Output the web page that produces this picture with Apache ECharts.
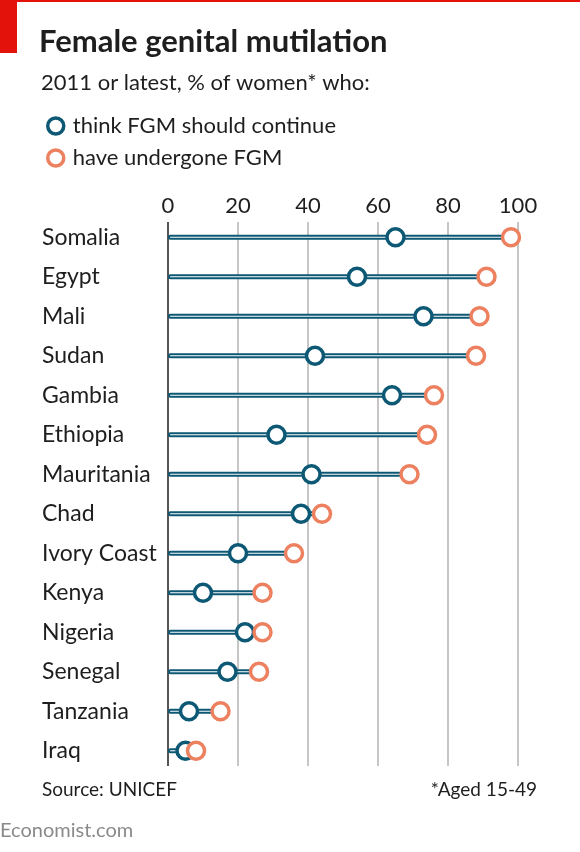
<!DOCTYPE html>
<html>
<head>
<meta charset="utf-8">
<script src="https://cdn.jsdelivr.net/npm/echarts@6/dist/echarts.min.js"></script>
<style>
html,body{margin:0;padding:0;background:#fff;}
#chart{width:580px;height:852px;}
</style>
</head>
<body>
<div id="chart"></div>
<script>
// ---- data ----
var countries = ['Somalia','Egypt','Mali','Sudan','Gambia','Ethiopia','Mauritania','Chad','Ivory Coast','Kenya','Nigeria','Senegal','Tanzania','Iraq'];
var thinkContinue = [65, 54, 73, 42, 64, 31, 41, 38, 20, 10, 22, 17, 6, 5];
var undergone     = [98, 91, 89, 88, 76, 74, 69, 44, 36, 27, 27, 26, 15, 8];
var xTicks = [0, 20, 40, 60, 80, 100];
var seriesNames = ['think FGM should continue', 'have undergone FGM'];

var TEAL = '#0d5874', ORANGE = '#ec805f', TXT = '#1e1e1e';
var FONT = 'Lato';

var chart = echarts.init(document.getElementById('chart'), null, {renderer: 'canvas'});
var option = {
  animation: false,
  backgroundColor: '#fff',
  textStyle: {fontFamily: FONT},
  graphic: [
    {type: 'rect', shape: {x: 0, y: 0, width: 580, height: 2}, style: {fill: '#e3120b'}, silent: true},
    {type: 'rect', shape: {x: 0, y: 0, width: 17, height: 53}, style: {fill: '#e3120b'}, silent: true}
  ],
  title: [
    {text: 'Female genital mutilation', left: 39, top: 25, padding: 0,
     textStyle: {fontFamily: FONT, fontWeight: 'bold', fontSize: 31, color: TXT, lineHeight: 34}},
    {text: '2011 or latest, % of women* who:', left: 41, top: 71, padding: 0,
     textStyle: {fontFamily: FONT, fontWeight: 'normal', fontSize: 22, color: TXT, lineHeight: 24}},
    {text: 'Source: UNICEF', left: 42, top: 779, padding: 0,
     textStyle: {fontFamily: FONT, fontWeight: 'normal', fontSize: 19, color: TXT, lineHeight: 22}},
    {text: '*Aged 15-49', right: 43, top: 779, padding: 0,
     textStyle: {fontFamily: FONT, fontWeight: 'normal', fontSize: 19, color: TXT, lineHeight: 22}},
    {text: 'Economist.com', left: 0, top: 820, padding: 0,
     textStyle: {fontFamily: FONT, fontWeight: 'normal', fontSize: 20, color: '#8a8a8a', lineHeight: 22}}
  ],
  legend: {
    orient: 'vertical', left: 46, top: 115, padding: 0,
    itemWidth: 16, itemHeight: 16, itemGap: 10,
    selectedMode: false,
    data: [
      {name: seriesNames[0], icon: 'circle', itemStyle: {color: '#fff', borderColor: TEAL, borderWidth: 3.5}},
      {name: seriesNames[1], icon: 'circle', itemStyle: {color: '#fff', borderColor: ORANGE, borderWidth: 3.5}}
    ],
    textStyle: {fontFamily: FONT, fontSize: 22, color: TXT, lineHeight: 22, padding: [0, 0, 0, 4]}
  },
  grid: [
    {left: 168, right: 62, top: 222, bottom: 86, containLabel: false},
    {left: 168, right: 62, top: 217.5, bottom: 81.5, containLabel: false}
  ],
  xAxis: [
    {type: 'value', gridIndex: 0, position: 'top', min: 0, max: 100, interval: 20,
     axisLine: {show: false}, axisTick: {show: false},
     axisLabel: {fontFamily: FONT, fontSize: 22, color: TXT, margin: 5,
       formatter: function (v) { return xTicks.indexOf(v) >= 0 ? String(v) : ''; }},
     splitLine: {show: true, lineStyle: {width: 2, color: ['#555555', '#c6c6c6', '#c6c6c6', '#c6c6c6', '#c6c6c6', '#c6c6c6']}}},
    {type: 'value', gridIndex: 1, min: 0, max: 100, show: false}
  ],
  yAxis: [
    {type: 'value', gridIndex: 0, min: 0, max: 1, show: false},
    {type: 'category', gridIndex: 1, data: countries, inverse: true,
     axisLine: {show: false}, axisTick: {show: false}, splitLine: {show: false},
     axisLabel: {align: 'left', margin: 126, fontFamily: FONT, fontSize: 23, color: TXT}}
  ],
  series: [
    {type: 'bar', name: 'bar', xAxisIndex: 1, yAxisIndex: 1, data: undergone,
     barWidth: 5, silent: true,
     itemStyle: {color: '#fff', borderColor: TEAL, borderWidth: 2, borderRadius: [3, 0, 0, 3]},
     z: 2},
    {type: 'scatter', name: seriesNames[0], xAxisIndex: 1, yAxisIndex: 1,
     data: thinkContinue.map(function (v, i) { return [v, countries[i]]; }),
     symbol: 'circle', symbolSize: 17, silent: true,
     itemStyle: {color: '#fff', borderColor: TEAL, borderWidth: 3.5, opacity: 1}, z: 3},
    {type: 'scatter', name: seriesNames[1], xAxisIndex: 1, yAxisIndex: 1,
     data: undergone.map(function (v, i) { return [v, countries[i]]; }),
     symbol: 'circle', symbolSize: 17, silent: true,
     itemStyle: {color: '#fff', borderColor: ORANGE, borderWidth: 3.5, opacity: 1}, z: 4}
  ]
};
chart.setOption(option);
</script>
</body>
</html>
